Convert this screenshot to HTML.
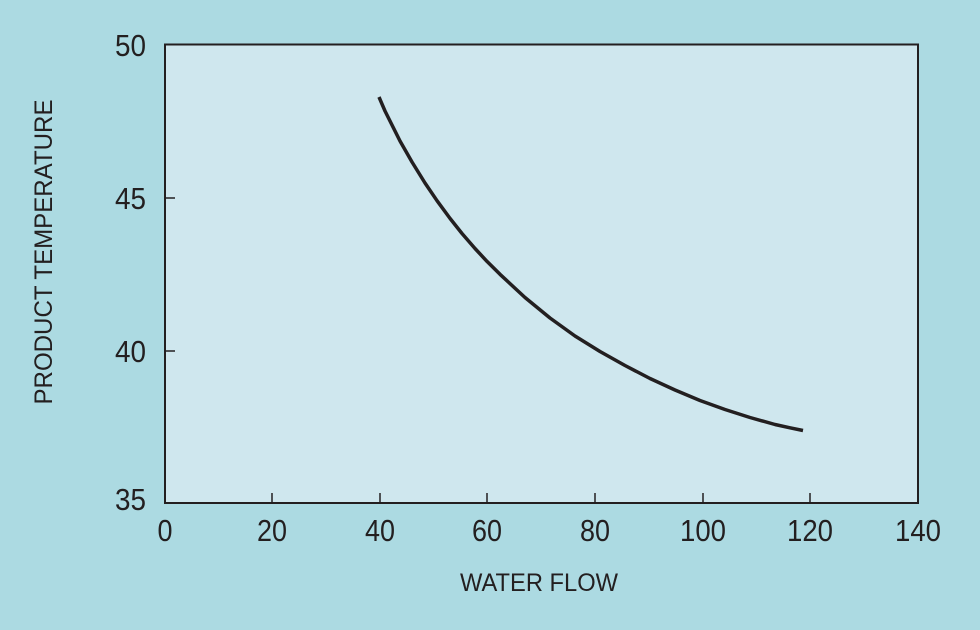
<!DOCTYPE html>
<html><head><style>
body{margin:0;width:980px;height:630px;background:#acdae2;overflow:hidden}
svg{display:block}
text{font-family:"Liberation Sans",Arial,sans-serif;fill:#231f20}
</style></head><body>
<svg width="980" height="630" viewBox="0 0 980 630">
<rect x="0" y="0" width="980" height="630" fill="#acdae2"/>
<rect x="165" y="44.5" width="753" height="458.5" fill="#cfe7ee" stroke="#231f20" stroke-width="2"/>
<g stroke="#231f20" stroke-width="1.5">
<line x1="165" y1="198" x2="175" y2="198"/>
<line x1="165" y1="351" x2="175" y2="351"/>
<line x1="272" y1="503" x2="272" y2="493"/>
<line x1="380" y1="503" x2="380" y2="493"/>
<line x1="487" y1="503" x2="487" y2="493"/>
<line x1="595" y1="503" x2="595" y2="493"/>
<line x1="703" y1="503" x2="703" y2="493"/>
<line x1="810" y1="503" x2="810" y2="493"/>
</g>
<polyline points="379,97 385,111 390,121 400,141 412,162 425,183 437,200.7 450,218.4 462,233.5 475,248.5 487,261.4 500,274.3 525,297.5 550,318 575,336 600,351.5 625,365.5 650,378.5 675,390 700,400.5 725,409.5 750,417.5 775,424.5 790,427.8 803,430.5" fill="none" stroke="#231f20" stroke-width="3.5" stroke-linejoin="round"/>
<g font-size="31" text-anchor="end">
<text x="146" y="56" textLength="31" lengthAdjust="spacingAndGlyphs">50</text>
<text x="146" y="209" textLength="31" lengthAdjust="spacingAndGlyphs">45</text>
<text x="146" y="362" textLength="31" lengthAdjust="spacingAndGlyphs">40</text>
<text x="146" y="510" textLength="31" lengthAdjust="spacingAndGlyphs">35</text>
</g>
<g font-size="31" text-anchor="middle">
<text x="165" y="541" textLength="15" lengthAdjust="spacingAndGlyphs">0</text>
<text x="272" y="541" textLength="30" lengthAdjust="spacingAndGlyphs">20</text>
<text x="380" y="541" textLength="30" lengthAdjust="spacingAndGlyphs">40</text>
<text x="487" y="541" textLength="30" lengthAdjust="spacingAndGlyphs">60</text>
<text x="595" y="541" textLength="30" lengthAdjust="spacingAndGlyphs">80</text>
<text x="703" y="541" textLength="46" lengthAdjust="spacingAndGlyphs">100</text>
<text x="810" y="541" textLength="46" lengthAdjust="spacingAndGlyphs">120</text>
<text x="918" y="541" textLength="46" lengthAdjust="spacingAndGlyphs">140</text>
</g>
<text x="539" y="591" font-size="25" text-anchor="middle" textLength="158" lengthAdjust="spacingAndGlyphs">WATER FLOW</text>
<text transform="translate(52,252) rotate(-90)" font-size="25" text-anchor="middle" textLength="305" lengthAdjust="spacingAndGlyphs">PRODUCT TEMPERATURE</text>
</svg>
</body></html>
